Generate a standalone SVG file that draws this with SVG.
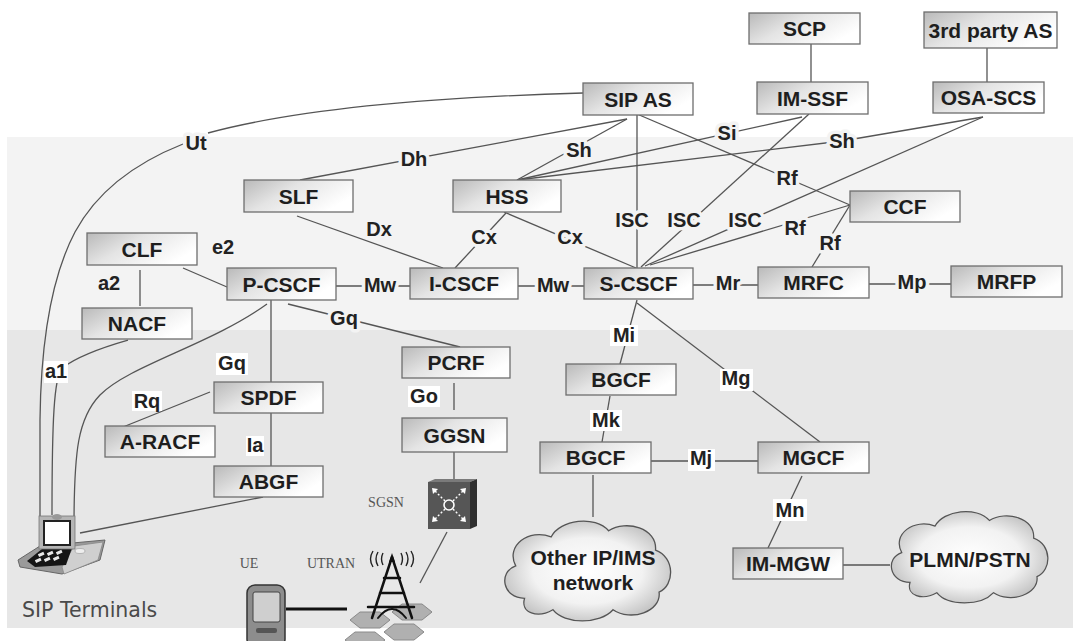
<svg xmlns="http://www.w3.org/2000/svg" width="1073" height="641" viewBox="0 0 1073 641">
  <defs>
    <linearGradient id="boxfill" x1="0" y1="0" x2="1" y2="0.5">
      <stop offset="0" stop-color="#b9b9b9"/>
      <stop offset="0.45" stop-color="#e4e4e4"/>
      <stop offset="1" stop-color="#ffffff"/>
    </linearGradient>
    <radialGradient id="cloudfill" cx="0.5" cy="0.5" r="0.6">
      <stop offset="0" stop-color="#ffffff"/>
      <stop offset="0.55" stop-color="#f2f2f2"/>
      <stop offset="1" stop-color="#b5b5b5"/>
    </radialGradient>
    <path id="cloud" d="M30,95 C5,95 0,65 20,58 C8,35 35,15 60,25 C70,5 110,0 125,18 C145,5 180,15 178,40 C200,48 200,80 182,88 C185,110 150,122 130,108 C115,125 75,125 62,108 C45,118 25,112 30,95 Z"/>
    <style>
      .box { fill: url(#boxfill); stroke: #6e6e6e; stroke-width: 1.3; }
      .nt { font-family: "Liberation Sans", Arial, sans-serif; font-weight: bold; font-size: 21px; fill: #1e1e1e; text-anchor: middle; }
      .lb { font-family: "Liberation Sans", Arial, sans-serif; font-weight: bold; font-size: 20px; fill: #222; text-anchor: middle; }
      .hw { stroke: #f3f3f3; stroke-width: 7; stroke-linejoin: round; paint-order: stroke; }
      .lbg { fill: #ffffff; }
      .ln { fill: none; stroke: #555; stroke-width: 1.3; }
      .cap { font-family: "Liberation Serif", "Times New Roman", serif; font-size: 14px; fill: #555; text-anchor: middle; }
      .cloud { fill: url(#cloudfill); stroke: #555; stroke-width: 1.5; }
    </style>
  </defs>

  <!-- background bands -->
  <g id="background">
    <rect x="0" y="0" width="1073" height="641" fill="#ffffff"/>
    <rect x="7" y="137" width="1066" height="193" fill="#f3f3f3"/>
    <rect x="7" y="330" width="1066" height="298" fill="#e7e7e7"/>
  </g>

  <!-- interface lines -->
  <g id="connectors">
    <line class="ln" x1="811" y1="44" x2="811" y2="82"/>
    <line class="ln" x1="987" y1="48" x2="987" y2="82"/>
    <path class="ln" d="M583,93 Q330,100 208,133"/>
    <path class="ln" d="M183,144 C130,165 95,195 75,232 C55,270 41,330 40,420 L40,517"/>
    <line class="ln" x1="627" y1="119" x2="300" y2="180"/>
    <line class="ln" x1="627" y1="119" x2="517" y2="180"/>
    <line class="ln" x1="637" y1="115" x2="637" y2="268"/>
    <line class="ln" x1="637" y1="114" x2="850" y2="205"/>
    <line class="ln" x1="517" y1="180" x2="802" y2="117"/>
    <polyline class="ln" points="517,180 842,141 983,117"/>
    <line class="ln" x1="809" y1="114" x2="641" y2="267"/>
    <line class="ln" x1="983" y1="117" x2="645" y2="266"/>
    <line class="ln" x1="650" y1="265" x2="850" y2="205"/>
    <line class="ln" x1="812" y1="267" x2="850" y2="205"/>
    <line class="ln" x1="506" y1="213" x2="455" y2="268"/>
    <line class="ln" x1="504" y1="212" x2="636" y2="268"/>
    <line class="ln" x1="297" y1="216" x2="443" y2="268"/>
    <line class="ln" x1="183" y1="268" x2="227" y2="287"/>
    <line class="ln" x1="140" y1="270" x2="140" y2="306"/>
    <line class="ln" x1="336" y1="286" x2="410" y2="286"/>
    <line class="ln" x1="518" y1="286" x2="584" y2="286"/>
    <line class="ln" x1="693" y1="285" x2="758" y2="285"/>
    <line class="ln" x1="869" y1="284" x2="951" y2="284"/>
    <line class="ln" x1="288" y1="304" x2="460" y2="347"/>
    <line class="ln" x1="271" y1="300" x2="271" y2="382"/>
    <path class="ln" d="M267,304 C210,345 130,365 100,395 C78,418 74,450 74,527"/>
    <path class="ln" d="M128,340 C100,348 75,358 62,368 C54,378 52,420 52,515"/>
    <line class="ln" x1="210" y1="392" x2="123" y2="427"/>
    <line class="ln" x1="271" y1="413" x2="271" y2="466"/>
    <line class="ln" x1="263" y1="497" x2="80" y2="533"/>
    <line class="ln" x1="454" y1="383" x2="454" y2="410"/>
    <line class="ln" x1="454" y1="452" x2="454" y2="480"/>
    <line class="ln" x1="447" y1="532" x2="420" y2="583"/>
    <line x1="286" y1="609" x2="347" y2="609" stroke="#111" stroke-width="3"/>
    <line class="ln" x1="637" y1="300" x2="620" y2="364"/>
    <line class="ln" x1="637" y1="303" x2="820" y2="442"/>
    <line class="ln" x1="610" y1="396" x2="602" y2="442"/>
    <line class="ln" x1="651" y1="461" x2="758" y2="461"/>
    <line class="ln" x1="593" y1="475" x2="593" y2="517"/>
    <line class="ln" x1="802" y1="476" x2="768" y2="548"/>
    <line class="ln" x1="843" y1="565" x2="890" y2="565"/>

    <!-- interface names -->
    <g id="interface-labels">
      <text class="lb hw" x="196" y="150">Ut</text>
      <text class="lb hw" x="414" y="166">Dh</text>
      <text class="lb hw" x="579" y="157">Sh</text>
      <text class="lb hw" x="727" y="140">Si</text>
      <text class="lb hw" x="842" y="148">Sh</text>
      <text class="lb hw" x="787" y="185">Rf</text>
      <text class="lb hw" x="632" y="227">ISC</text>
      <text class="lb hw" x="684" y="227">ISC</text>
      <text class="lb hw" x="745" y="227">ISC</text>
      <text class="lb hw" x="795" y="235">Rf</text>
      <text class="lb hw" x="830" y="250">Rf</text>
      <text class="lb hw" x="379" y="236">Dx</text>
      <text class="lb hw" x="484" y="244">Cx</text>
      <text class="lb hw" x="570" y="244">Cx</text>
      <text class="lb hw" x="223" y="254">e2</text>
      <text class="lb hw" x="109" y="290">a2</text>
      <text class="lb hw" x="380" y="292">Mw</text>
      <text class="lb hw" x="553" y="292">Mw</text>
      <text class="lb hw" x="728" y="290">Mr</text>
      <text class="lb hw" x="912" y="289">Mp</text>
      <text class="lb hw" x="344" y="325">Gq</text>

      <rect class="lbg" x="44" y="361" width="24" height="22"/>
      <text class="lb" x="56" y="378">a1</text>
      <rect class="lbg" x="216" y="353" width="32" height="22"/>
      <text class="lb" x="232" y="370">Gq</text>
      <rect class="lbg" x="132" y="391" width="30" height="20"/>
      <text class="lb" x="147" y="408">Rq</text>
      <rect class="lbg" x="246" y="436" width="18" height="20"/>
      <text class="lb" x="255" y="452">Ia</text>
      <rect class="lbg" x="408" y="386" width="32" height="21"/>
      <text class="lb" x="424" y="403">Go</text>
      <rect class="lbg" x="610" y="325" width="28" height="21"/>
      <text class="lb" x="624" y="342">Mi</text>
      <rect class="lbg" x="720" y="369" width="33" height="22"/>
      <text class="lb" x="736" y="385">Mg</text>
      <rect class="lbg" x="590" y="410" width="32" height="21"/>
      <text class="lb" x="606" y="427">Mk</text>
      <rect class="lbg" x="688" y="449" width="27" height="22"/>
      <text class="lb" x="701" y="465">Mj</text>
      <rect class="lbg" x="773" y="499" width="34" height="22"/>
      <text class="lb" x="790" y="517">Mn</text>
    </g>
  </g>

  <!-- functional entities -->
  <g id="SCP"><rect class="box" x="749" y="13" width="111" height="31"/><text class="nt" x="804.5" y="36">SCP</text></g>
  <g id="third-party-AS"><rect class="box" x="924" y="12" width="133" height="36"/><text class="nt" x="990.5" y="37.5">3rd party AS</text></g>
  <g id="SIP-AS"><rect class="box" x="583" y="83" width="110" height="32"/><text class="nt" x="638" y="106.5">SIP AS</text></g>
  <g id="IM-SSF"><rect class="box" x="757" y="82" width="111" height="32"/><text class="nt" x="812.5" y="105.5">IM-SSF</text></g>
  <g id="OSA-SCS"><rect class="box" x="933" y="82" width="111" height="31"/><text class="nt" x="988.5" y="105">OSA-SCS</text></g>
  <g id="SLF"><rect class="box" x="244" y="180" width="109" height="32"/><text class="nt" x="298.5" y="203.5">SLF</text></g>
  <g id="HSS"><rect class="box" x="453" y="180" width="108" height="32"/><text class="nt" x="507" y="203.5">HSS</text></g>
  <g id="CCF"><rect class="box" x="850" y="191" width="110" height="31"/><text class="nt" x="905" y="214">CCF</text></g>
  <g id="CLF"><rect class="box" x="87" y="233" width="110" height="32"/><text class="nt" x="142" y="256.5">CLF</text></g>
  <g id="P-CSCF"><rect class="box" x="227" y="268" width="109" height="32"/><text class="nt" x="281.5" y="291.5">P-CSCF</text></g>
  <g id="I-CSCF"><rect class="box" x="410" y="268" width="108" height="31"/><text class="nt" x="464" y="291">I-CSCF</text></g>
  <g id="S-CSCF"><rect class="box" x="584" y="268" width="109" height="31"/><text class="nt" x="638.5" y="291">S-CSCF</text></g>
  <g id="MRFC"><rect class="box" x="758" y="267" width="111" height="31"/><text class="nt" x="813.5" y="290">MRFC</text></g>
  <g id="MRFP"><rect class="box" x="951" y="266" width="111" height="31"/><text class="nt" x="1006.5" y="289">MRFP</text></g>
  <g id="NACF"><rect class="box" x="82" y="308" width="110" height="31"/><text class="nt" x="137" y="331">NACF</text></g>
  <g id="PCRF"><rect class="box" x="402" y="347" width="108" height="31"/><text class="nt" x="456" y="370">PCRF</text></g>
  <g id="BGCF-1"><rect class="box" x="566" y="364" width="110" height="31"/><text class="nt" x="621" y="387">BGCF</text></g>
  <g id="SPDF"><rect class="box" x="214" y="382" width="109" height="31"/><text class="nt" x="268.5" y="405">SPDF</text></g>
  <g id="GGSN"><rect class="box" x="402" y="418" width="105" height="34"/><text class="nt" x="454.5" y="442.5">GGSN</text></g>
  <g id="A-RACF"><rect class="box" x="105" y="426" width="110" height="31"/><text class="nt" x="160" y="449">A-RACF</text></g>
  <g id="BGCF-2"><rect class="box" x="540" y="442" width="111" height="31"/><text class="nt" x="595.5" y="465">BGCF</text></g>
  <g id="MGCF"><rect class="box" x="758" y="442" width="111" height="31"/><text class="nt" x="813.5" y="465">MGCF</text></g>
  <g id="ABGF"><rect class="box" x="214" y="466" width="109" height="31"/><text class="nt" x="268.5" y="489">ABGF</text></g>
  <g id="IM-MGW"><rect class="box" x="733" y="548" width="110" height="31"/><text class="nt" x="788" y="571">IM-MGW</text></g>

  <!-- external networks -->
  <g id="other-ip-ims-network">
    <use href="#cloud" class="cloud" transform="translate(498,515) scale(0.885,0.877)" style="vector-effect:non-scaling-stroke"/>
    <text class="nt" x="593" y="565">Other IP/IMS</text>
    <text class="nt" x="593" y="590">network</text>
  </g>
  <g id="plmn-pstn">
    <use href="#cloud" class="cloud" transform="translate(885,506) scale(0.835,0.803)"/>
    <text class="nt" x="970" y="567">PLMN/PSTN</text>
  </g>

  <!-- SIP terminal (desk phone) -->
  <g id="sip-terminals">
    <polygon points="18,560 40,546 105,540 100,560 62,574 20,567" fill="#9a9a9a" stroke="#666" stroke-width="1"/>
    <polygon points="62,567 74,546 103,542 98,560 64,574" fill="#cfcfcf" stroke="#888" stroke-width="0.8"/>
    <polygon points="27,561 42,549 72,548 66,565 35,567" fill="#151515"/>
    <g fill="#e8e8e8">
      <rect x="38" y="553" width="6" height="3" transform="rotate(-25 41 554)"/>
      <rect x="47" y="552" width="6" height="3" transform="rotate(-25 50 553)"/>
      <rect x="56" y="551" width="6" height="3" transform="rotate(-25 59 552)"/>
      <rect x="35" y="559" width="6" height="3" transform="rotate(-25 38 560)"/>
      <rect x="44" y="558" width="6" height="3" transform="rotate(-25 47 559)"/>
      <rect x="53" y="557" width="6" height="3" transform="rotate(-25 56 558)"/>
    </g>
    <rect x="39" y="516" width="36" height="33" fill="#b5b5b5" stroke="#777" stroke-width="0.8"/>
    <rect x="44" y="521" width="26" height="24" fill="#ffffff" stroke="#222" stroke-width="2"/>
    <ellipse cx="57" cy="517" rx="5" ry="3" fill="#999"/>
    <ellipse cx="80" cy="551" rx="5" ry="2.5" fill="#eee" stroke="#999" stroke-width="0.6"/>
    <text x="22" y="617" font-family="'DejaVu Sans', sans-serif" font-size="20.5" fill="#4a4a4a">SIP Terminals</text>
  </g>

  <!-- UE handset -->
  <g id="ue">
    <rect x="247" y="585" width="38" height="62" rx="8" fill="#8d8d8d" stroke="#333" stroke-width="1.5"/>
    <rect x="253" y="592" width="27" height="30" rx="2" fill="#cfcfcf" stroke="#444" stroke-width="1"/>
    <rect x="256" y="628" width="21" height="5" rx="2" fill="#555"/>
    <text class="cap" x="249" y="568">UE</text>
  </g>

  <!-- UTRAN radio mast -->
  <g id="utran">
    <g fill="#b0b0b0" stroke="#8a8a8a" stroke-width="1">
      <polygon points="350,620 360,612 380,612 390,620 380,628 360,628"/>
      <polygon points="392,612 402,604 422,604 432,612 422,620 402,620"/>
      <polygon points="384,632 394,624 414,624 424,632 414,640 394,640"/>
      <polygon points="345,640 355,632 375,632 385,640 375,648 355,648"/>
    </g>
    <g fill="none" stroke="#111" stroke-width="2.5" stroke-linecap="round">
      <path d="M392,557 L372,618 M392,557 L412,618"/>
      <path d="M368,607 L414,607 M380,593 L404,593 M384,578 L400,578"/>
      <path d="M378,618 Q392,600 406,618" stroke-width="2"/>
    </g>
    <polygon points="389,562 392,553 395,562" fill="#111"/>
    <g fill="none" stroke="#222" stroke-width="1.4">
      <path d="M383,553 Q380,559 383,565"/>
      <path d="M378,552 Q374,559 378,566"/>
      <path d="M373,551 Q368,559 373,567"/>
      <path d="M401,553 Q404,559 401,565"/>
      <path d="M406,552 Q410,559 406,566"/>
      <path d="M411,551 Q416,559 411,567"/>
    </g>
    <text class="cap" x="331" y="568">UTRAN</text>
  </g>

  <!-- SGSN router -->
  <g id="sgsn">
    <polygon points="428,482 435,479 477,479 470,482" fill="#7a7a7a"/>
    <polygon points="470,482 477,479 477,526 470,529" fill="#2f2f2f"/>
    <rect x="428" y="482" width="42" height="47" fill="#565656"/>
    <circle cx="449" cy="505" r="5" fill="none" stroke="#fff" stroke-width="1.6"/>
    <g stroke="#fff" stroke-width="1.4" stroke-dasharray="2 2" fill="none">
      <path d="M445,501 L434,490 M453,501 L464,490 M445,509 L434,520 M453,509 L464,520"/>
    </g>
    <g fill="#fff">
      <polygon points="432,488 438,489 433,494"/>
      <polygon points="466,488 465,494 460,489"/>
      <polygon points="432,522 433,516 438,521"/>
      <polygon points="466,522 460,521 465,516"/>
    </g>
    <text class="cap" x="386" y="507">SGSN</text>
  </g>
</svg>
